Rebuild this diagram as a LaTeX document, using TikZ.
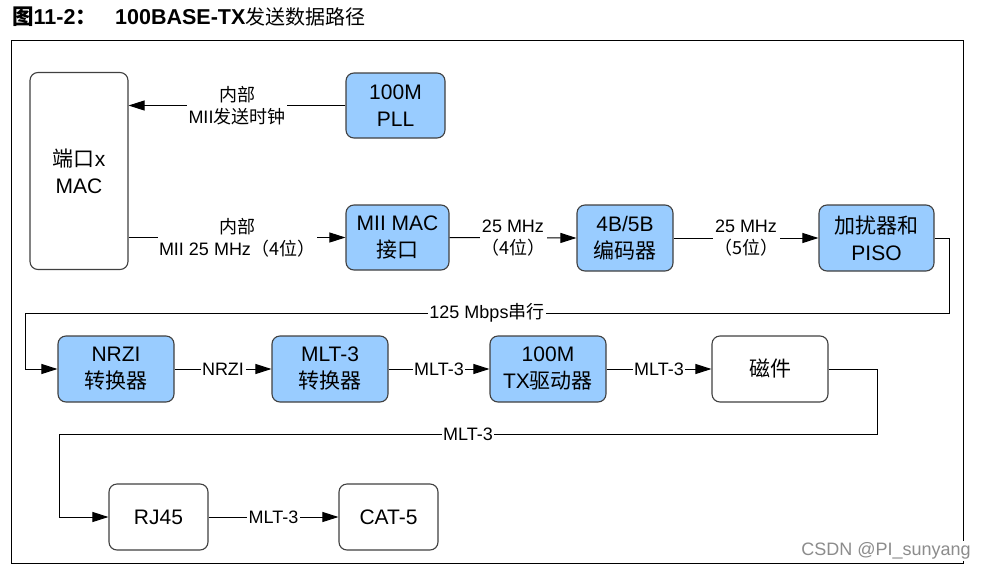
\documentclass[tikz,border=0pt]{standalone}
\usepackage{fontspec}
\setmainfont{Liberation Sans}
\newfontfamily\cjk{Noto Sans CJK SC}
\newcommand\zh[1]{{\cjk #1}}
\usetikzlibrary{arrows.meta}
\definecolor{boxblue}{HTML}{99CCFF}
\definecolor{boxline}{HTML}{404040}
\begin{document}
\begin{tikzpicture}[x=1pt,y=-1pt,
  box/.style={draw=boxline, line width=1.1pt, rounded corners=8pt, align=center, inner sep=0pt, font=\fontsize{21}{27}\selectfont},
  bluebox/.style={box, fill=boxblue},
  whitebox/.style={box, fill=white},
  conn/.style={line width=1pt, -{Triangle[length=16pt,width=10pt]}},
  lbl/.style={fill=white, inner sep=1.5pt, align=center, font=\fontsize{18}{22}\selectfont}]
\useasboundingbox (0,0) rectangle (985,576);
% title
\node[anchor=west, inner sep=0pt, font=\bfseries\fontsize{21.5}{24}\selectfont] (t1) at (12,17) {\zh{图}11-2\zh{：}};
\node[anchor=west, inner sep=0pt, font=\bfseries\fontsize{21.5}{24}\selectfont] (t2) at (115,17) {100BASE-TX{\mdseries\cjk\fontsize{20}{24}\selectfont 发送数据路径}};
% frame
\draw[line width=1pt] (11,40) rectangle (963,563);
% boxes
\node[whitebox, minimum width=98pt, minimum height=197pt] (mac) at (79,171) {\zh{端口}x\\MAC};
\node[bluebox, minimum width=99pt, minimum height=65pt] (pll) at (395.5,105.5) {100M\\PLL};
\node[bluebox, minimum width=103pt, minimum height=65pt] (mii) at (397.5,237.5) {MII MAC\\\zh{接口}};
\node[bluebox, minimum width=96pt, minimum height=66pt] (enc) at (625,238) {4B/5B\\\zh{编码器}};
\node[bluebox, minimum width=115pt, minimum height=66pt] (piso) at (876.5,238) {\zh{加扰器和}\\PISO};
\node[bluebox, minimum width=116pt, minimum height=66pt] (nrzi) at (116,369) {NRZI\\\zh{转换器}};
\node[bluebox, minimum width=116pt, minimum height=66pt] (mlt) at (330,369) {MLT-3\\\zh{转换器}};
\node[bluebox, minimum width=116pt, minimum height=66pt] (tx) at (548,369) {100M\\TX\zh{驱动器}};
\node[whitebox, minimum width=116pt, minimum height=66pt] (mag) at (770,369) {\zh{磁件}};
\node[whitebox, minimum width=99pt, minimum height=66pt] (rj) at (158.5,517) {RJ45};
\node[whitebox, minimum width=99pt, minimum height=66pt] (cat) at (388.5,517) {CAT-5};
% corner coordinates
\coordinate (c1) at (949,313);
\coordinate (c2) at (25,313);
\coordinate (c3) at (877,434);
\coordinate (c4) at (59,434);
% connectors
\draw[conn] (pll.west) -- (pll.west -| mac.east) node[lbl, midway] {\zh{内部}\\MII\zh{发送时钟}};
\draw[conn] (mac.east |- mii.west) -- (mii.west) node[lbl, midway] {\zh{内部}\\MII 25 MHz\zh{（4位）}};
\draw[conn] (mii.east) -- (enc.west) node[lbl, midway] {25 MHz\\\zh{（4位）}};
\draw[conn] (enc.east) -- (piso.west) node[lbl, midway] {25 MHz\\\zh{（5位）}};
\draw[conn] (piso.east) -| (c1) -- (c2) node[lbl, midway] {125 Mbps\zh{串行}} |- (nrzi.west);
\draw[conn] (nrzi.east) -- (mlt.west) node[lbl, midway] {NRZI};
\draw[conn] (mlt.east) -- (tx.west) node[lbl, midway] {MLT-3};
\draw[conn] (tx.east) -- (mag.west) node[lbl, midway] {MLT-3};
\draw[conn] (mag.east) -| (c3) -- (c4) node[lbl, midway] {MLT-3} |- (rj.west);
\draw[conn] (rj.east) -- (cat.west) node[lbl, midway] {MLT-3};
% watermark
\node[fill=white, inner sep=2pt, text=black!45, font=\fontsize{18}{20}\selectfont] (wm) at (886,551) {CSDN @PI\_sunyang};
\end{tikzpicture}
\end{document}
